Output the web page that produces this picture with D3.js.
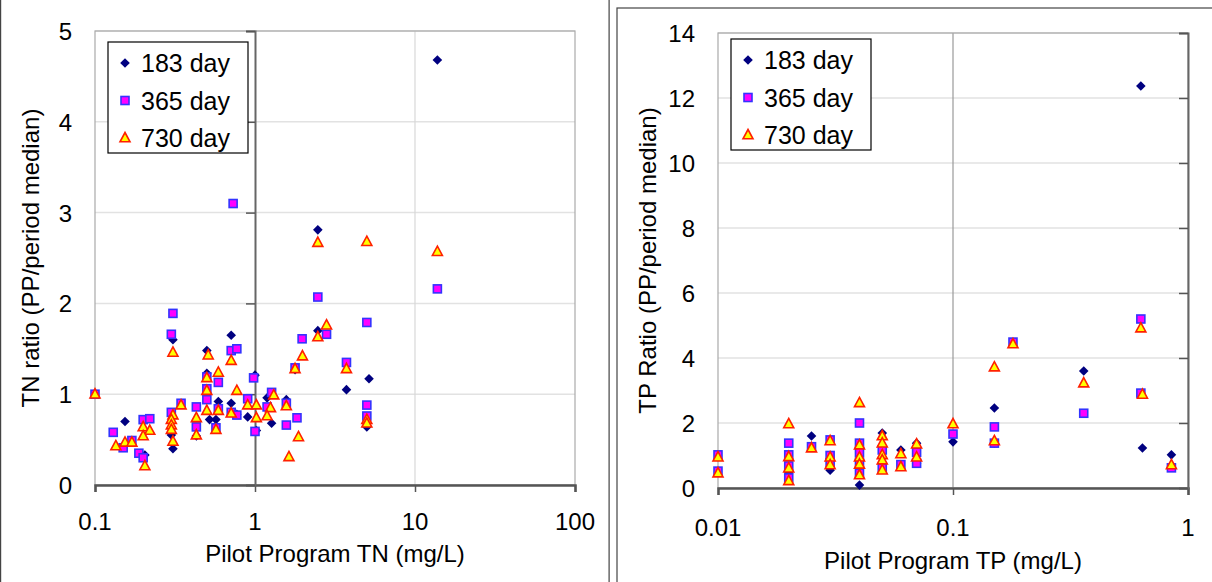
<!DOCTYPE html>
<html>
<head>
<meta charset="UTF-8">
<title>TN / TP ratio</title>
<script src="https://d3js.org/d3.v7.min.js"></script>
<style>
 body { margin: 0; background: #fff; }
 text { font-family: "Liberation Sans", Arial, sans-serif; fill: #000; }
</style>
</head>
<body>
<script>
// series names
var seriesNames = ["183 day", "365 day", "730 day"];

// TN panel, [Pilot Program TN, ratio]
var tn183 = [[0.154,0.70],[0.205,0.33],[0.307,1.60],[0.30,0.55],[0.307,0.40],[0.43,0.54],
  [0.50,1.48],[0.50,1.23],[0.52,0.72],[0.57,0.72],[0.59,0.92],[0.71,1.65],[0.71,0.90],
  [0.77,0.78],[0.90,0.75],[1.0,1.21],[1.02,0.60],[1.19,0.96],[1.27,0.68],[1.57,0.94],
  [1.78,1.27],[2.47,2.81],[2.47,1.70],[3.73,1.05],[5.16,1.17],[5.0,0.64],[13.8,4.68]];
var tn365 = [[0.1,1.0],[0.13,0.58],[0.15,0.41],[0.17,0.49],[0.188,0.35],[0.2,0.30],[0.2,0.72],
  [0.22,0.73],[0.30,1.66],[0.307,1.89],[0.30,0.80],[0.345,0.90],[0.43,0.86],[0.43,0.64],
  [0.50,1.19],[0.50,1.06],[0.50,0.94],[0.57,0.63],[0.59,1.13],[0.59,0.84],[0.71,1.48],
  [0.77,1.50],[0.71,0.80],[0.77,0.77],[0.73,3.10],[0.90,0.95],[0.98,1.18],[1.0,0.59],
  [1.27,1.02],[1.19,0.86],[1.57,0.90],[1.57,0.66],[1.83,0.74],[1.78,1.29],[1.97,1.61],
  [2.47,2.07],[2.8,1.66],[3.73,1.35],[5.0,1.79],[5.0,0.88],[5.0,0.76],[13.8,2.16]];
var tn730 = [[0.1,1.0],[0.135,0.43],[0.154,0.47],[0.17,0.47],[0.205,0.21],[0.2,0.64],[0.22,0.60],
  [0.2,0.54],[0.307,1.46],[0.307,0.77],[0.30,0.72],[0.30,0.66],[0.30,0.61],[0.307,0.48],
  [0.345,0.88],[0.43,0.74],[0.43,0.55],[0.51,1.43],[0.50,1.18],[0.50,1.04],[0.50,0.82],
  [0.57,0.61],[0.59,1.24],[0.59,0.82],[0.71,1.37],[0.71,0.79],[0.77,1.04],[0.90,0.88],
  [1.02,0.88],[1.02,0.74],[1.31,0.99],[1.25,0.85],[1.19,0.76],[1.57,0.87],[1.87,0.53],
  [1.63,0.31],[1.78,1.28],[1.98,1.42],[2.47,2.67],[2.47,1.63],[2.8,1.76],[3.73,1.28],
  [5.0,2.68],[5.0,0.72],[5.0,0.68],[13.8,2.57]];

// TP panel, [Pilot Program TP, ratio]
var tp183 = [[0.02,0.46],[0.025,1.60],[0.03,0.55],[0.04,0.09],[0.05,1.69],[0.06,1.17],
  [0.07,1.38],[0.07,0.76],[0.1,1.42],[0.15,2.46],[0.15,1.38],[0.36,3.60],[0.63,12.37],
  [0.64,1.23],[0.85,1.02]];
var tp365 = [[0.01,1.02],[0.01,0.52],[0.02,1.38],[0.02,1.02],[0.02,0.68],[0.02,0.31],
  [0.025,1.27],[0.03,1.48],[0.03,1.0],[0.03,0.78],[0.04,2.0],[0.04,1.38],[0.04,1.1],
  [0.04,0.8],[0.04,0.46],[0.05,1.17],[0.05,0.62],[0.06,0.72],[0.07,1.1],[0.07,0.76],
  [0.1,1.66],[0.15,1.88],[0.15,1.38],[0.18,4.49],[0.36,2.30],[0.63,5.20],[0.63,2.92],
  [0.85,0.62]];
var tp730 = [[0.01,0.95],[0.01,0.46],[0.02,1.97],[0.02,0.96],[0.02,0.61],[0.02,0.22],
  [0.025,1.23],[0.03,1.45],[0.03,0.95],[0.03,0.71],[0.04,2.62],[0.04,1.32],[0.04,0.95],
  [0.04,0.73],[0.04,0.40],[0.05,1.60],[0.05,1.38],[0.05,1.02],[0.05,0.86],[0.05,0.55],
  [0.06,1.05],[0.06,0.65],[0.07,1.35],[0.07,0.95],[0.1,1.97],[0.15,3.72],[0.15,1.45],
  [0.18,4.43],[0.36,3.23],[0.63,4.92],[0.64,2.88],[0.85,0.71]];

// ticks
var tnXTicks = [0.1, 1, 10, 100];
var tnYTicks = [0, 1, 2, 3, 4, 5];
var tpXTicks = [0.01, 0.1, 1];
var tpYTicks = [0, 2, 4, 6, 8, 10, 12, 14];

var svg = d3.select("body").append("svg")
  .attr("width", 1212).attr("height", 582);

function marker(g, k) {
  if (k == 0) {
    g.append("path").attr("d", "M0,-4.8L4.8,0L0,4.8L-4.8,0Z").attr("fill", "#000080");
  } else if (k == 1) {
    g.append("rect").attr("x", -4).attr("y", -4).attr("width", 8).attr("height", 8)
      .attr("fill", "#ff00ff").attr("stroke", "#3333ff").attr("stroke-width", 1.6);
  } else {
    g.append("path").attr("d", "M0,-5.5L5,3.8L-5,3.8Z")
      .attr("fill", "#ffff00").attr("stroke", "#ff2000").attr("stroke-width", 1.6);
  }
}

function drawPanel(p) {
  var x = d3.scaleLog().domain(p.xDomain).range([p.left, p.right]);
  var y = d3.scaleLinear().domain(p.yDomain).range([p.bottom, p.top]);

  // panel frame
  svg.append("rect").attr("x", p.frame[0]).attr("y", p.frame[1])
    .attr("width", p.frame[2]).attr("height", p.frame[3])
    .attr("fill", "none").attr("stroke", "#444").attr("stroke-width", 1.2);

  // horizontal grid
  svg.append("g").selectAll("line").data(p.yTicks.slice(1)).enter().append("line")
    .attr("x1", p.left).attr("x2", p.right)
    .attr("y1", function (d) { return y(d); }).attr("y2", function (d) { return y(d); })
    .attr("stroke", "#e2e2e2").attr("stroke-width", 1.5);

  // vertical grid
  svg.append("g").selectAll("line").data(p.vGrid).enter().append("line")
    .attr("x1", function (d) { return x(d); }).attr("x2", function (d) { return x(d); })
    .attr("y1", p.top).attr("y2", p.bottom)
    .attr("stroke", p.vGridColor).attr("stroke-width", 1.2);

  // plot border
  svg.append("rect").attr("x", p.left).attr("y", p.top)
    .attr("width", p.right - p.left).attr("height", p.bottom - p.top)
    .attr("fill", "none").attr("stroke", "#aaa").attr("stroke-width", 1.2);

  // x axis
  var xAxis = d3.axisBottom(x).tickValues(p.xTicks).tickSize(7).tickFormat("");
  var gx = svg.append("g").attr("transform", "translate(0," + p.bottom + ")").call(xAxis);
  gx.select(".domain").attr("stroke", "#555").attr("stroke-width", 2.5);
  gx.selectAll(".tick line").attr("stroke", "#555").attr("stroke-width", 1.5);
  svg.append("g").selectAll("text").data(p.xTicks).enter().append("text")
    .attr("x", function (d) { return x(d); }).attr("y", p.bottom + p.xLabelDy)
    .attr("text-anchor", "middle").style("font-size", "24px")
    .text(function (d) { return String(d); });

  // y axis crossing at x = 1
  var yAxis = d3.axisLeft(y).tickValues(p.yTicks).tickSize(9).tickFormat("");
  var gy = svg.append("g").attr("transform", "translate(" + x(1) + ",0)").call(yAxis);
  gy.select(".domain").attr("stroke", "#666").attr("stroke-width", 2);
  gy.selectAll(".tick line").attr("stroke", "#555").attr("stroke-width", 1.5);
  svg.append("g").selectAll("text").data(p.yTicks).enter().append("text")
    .attr("x", p.left - 23).attr("y", function (d) { return y(d) + 9; })
    .attr("text-anchor", "end").style("font-size", "24px")
    .text(function (d) { return d; });

  // titles
  svg.append("text").attr("x", (p.left + p.right) / 2).attr("y", p.xTitleY)
    .attr("text-anchor", "middle").style("font-size", "24px").text(p.xTitle);
  svg.append("text").attr("transform", "translate(" + p.yTitleX + "," + ((p.top + p.bottom) / 2) + ") rotate(-90)")
    .attr("text-anchor", "middle").style("font-size", "24px").text(p.yTitle);

  // points
  p.series.forEach(function (data, k) {
    svg.append("g").selectAll("g").data(data).enter().append("g")
      .attr("transform", function (d) { return "translate(" + x(d[0]) + "," + y(d[1]) + ")"; })
      .each(function () { marker(d3.select(this), k); });
  });

  // legend
  var lg = svg.append("g").attr("transform", "translate(" + p.legend[0] + "," + p.legend[1] + ")");
  lg.append("rect").attr("width", 140).attr("height", 111)
    .attr("fill", "#fff").attr("stroke", "#000").attr("stroke-width", 1.2);
  seriesNames.forEach(function (name, k) {
    var row = lg.append("g").attr("transform", "translate(17," + (21 + k * 37.5) + ")");
    marker(row, k);
    row.append("text").attr("x", 16).attr("y", 9).style("font-size", "25px").text(name);
  });
}

drawPanel({
  frame: [0.6, -5, 608.5, 600],
  xDomain: [0.1, 100], yDomain: [0, 5],
  left: 95, right: 575, top: 31, bottom: 485,
  xTicks: tnXTicks, yTicks: tnYTicks, vGrid: [10], vGridColor: "#d8d8d8", xLabelDy: 45,
  xTitle: "Pilot Program TN (mg/L)", xTitleY: 562,
  yTitle: "TN ratio (PP/period median)", yTitleX: 39,
  series: [tn183, tn365, tn730], legend: [108, 42]
});

drawPanel({
  frame: [617, 8, 600, 600],
  xDomain: [0.01, 1], yDomain: [0, 14],
  left: 718, right: 1188, top: 33, bottom: 488,
  xTicks: tpXTicks, yTicks: tpYTicks, vGrid: [0.1], vGridColor: "#999", xLabelDy: 48,
  xTitle: "Pilot Program TP (mg/L)", xTitleY: 569,
  yTitle: "TP Ratio (PP/period median)", yTitleX: 656,
  series: [tp183, tp365, tp730], legend: [731, 39]
});
</script>
</body>
</html>
